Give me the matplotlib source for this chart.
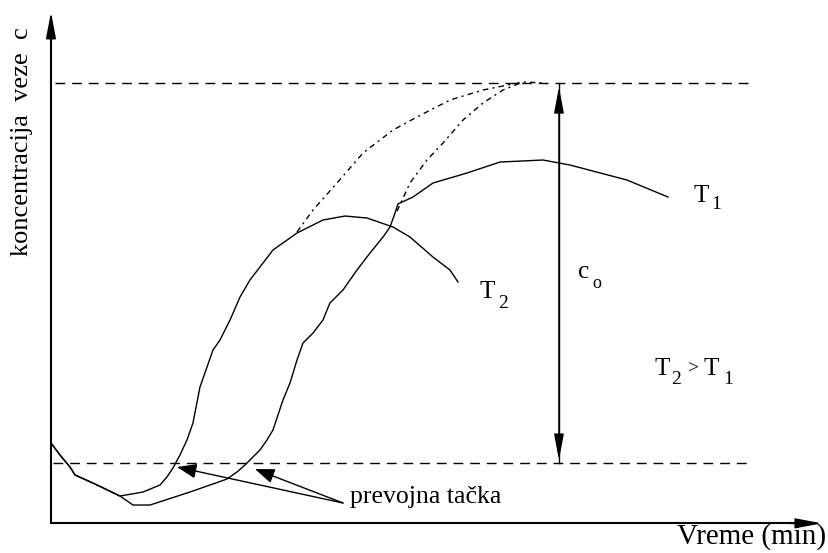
import matplotlib
matplotlib.use("Agg")
import matplotlib.pyplot as plt

# ---- data (time units, concentration units; c = 100 is saturation) ----
t1_t = [0, 1.17, 2.47, 3.12, 5.71, 8.96, 10.65, 12.86, 18.05, 22.86, 24.16, 25.19,
        27.14, 28.05, 28.83, 30.13, 31.04, 31.95, 32.73, 34.03, 35.32, 36.23, 37.92,
        39.74, 41.43, 43.12, 44.03, 44.68, 45.06, 47.01, 49.61, 54.03, 58.31, 63.90,
        67.40, 74.81, 80.13]
t1_c = [18.0, 15.26, 12.53, 10.71, 8.66, 5.92, 3.87, 3.87, 6.83, 9.79, 11.39, 12.98,
        16.40, 18.68, 20.96, 27.79, 31.66, 36.90, 40.77, 43.05, 46.01, 49.89, 52.85,
        57.40, 61.28, 64.92, 67.20, 70.39, 72.44, 74.03, 77.22, 79.50, 82.00, 82.46,
        81.32, 77.90, 74.03]

t2_t = [0, 1.17, 2.47, 3.12, 5.71, 8.96, 11.95, 14.16, 15.06, 15.84, 16.75, 17.66,
        18.44, 19.35, 21.04, 21.95, 23.25, 24.55, 25.84, 27.14, 28.83, 31.95, 35.32,
        38.18, 41.04, 44.42, 46.62, 49.61, 51.82, 52.86]
t2_c = [18.0, 15.26, 12.53, 10.71, 8.66, 5.92, 6.83, 8.43, 10.25, 12.30, 15.26, 18.68,
        22.55, 30.75, 39.18, 41.46, 46.01, 51.25, 55.13, 58.09, 61.96, 65.83, 68.79,
        69.70, 69.25, 67.20, 64.92, 60.36, 57.40, 54.67]

t2_sat_t = [31.95, 34.03, 37.14, 40.52, 44.42, 47.53, 51.82, 56.10, 61.30, 64.16]
t2_sat_c = [66.06, 71.07, 77.22, 84.05, 89.29, 92.26, 96.13, 98.41, 100.23, 100.0]

t1_sat_t = [44.94, 46.62, 48.83, 50.91, 53.51, 56.10, 58.70, 61.30]
t1_sat_c = [70.80, 77.22, 82.46, 86.33, 91.57, 95.44, 98.41, 100.23]

c_max = 100.0          # saturation level
c_min = 13.4           # lower reference level
dash_end = 90.78       # end of reference dashed lines
c0_t = 65.97           # position of c0 double arrow
infl_t2 = (16.36, 12.53)
infl_t1 = (26.49, 12.07)
label_pt = (37.92, 4.33)

plt.rcParams['font.family'] = ['Liberation Serif', 'DejaVu Serif']

fig = plt.figure(figsize=(8.29, 5.53), dpi=100)
ax = fig.add_axes([0, 0, 1, 1])
ax.set_xlim(-6.62, 101.04)
ax.set_ylim(-7.06, 118.91)
ax.axis('off')

lw = 1.0
# curves
ax.plot(t1_t, t1_c, color='black', lw=lw)
ax.plot(t2_t, t2_c, color='black', lw=lw)
ax.plot(t2_sat_t, t2_sat_c, color='black', lw=lw, ls=(0, (4, 3, 1.5, 3)))
ax.plot(t1_sat_t, t1_sat_c, color='black', lw=lw, ls=(0, (4, 3, 1.5, 3)))

# reference dashed lines
ax.plot([0.5, dash_end], [c_max, c_max], color='black', lw=lw, ls=(0, (7, 5)))
ax.plot([0.3, dash_end], [c_min, c_min], color='black', lw=lw, ls=(0, (7, 5)))

# axes with arrows
ax.plot([0, 0], [-0.3, 112], color='black', lw=1.5)
ax.plot([0, 98], [-0.3, -0.3], color='black', lw=1.5)
ax.annotate('', xy=(0, 116.2), xytext=(0, 108),
            arrowprops=dict(arrowstyle='-|>,head_length=1.6,head_width=0.3',
                            mutation_scale=10, color='black', lw=1.2,
                            shrinkA=0, shrinkB=0))
ax.annotate('', xy=(100.13, -0.3), xytext=(96, -0.3),
            arrowprops=dict(arrowstyle='-|>,head_length=1.6,head_width=0.3',
                            mutation_scale=10, color='black', lw=1.2,
                            shrinkA=0, shrinkB=0))

# c0 double arrow
ax.plot([c0_t, c0_t], [c_min, c_max], color='black', lw=lw)
ax.annotate('', xy=(c0_t, 99.1), xytext=(c0_t, 14.1),
            arrowprops=dict(arrowstyle='<|-|>,head_length=1.6,head_width=0.3',
                            mutation_scale=10, color='black', lw=lw,
                            shrinkA=0, shrinkB=0))

# inflection point arrows
for pt in (infl_t2, infl_t1):
    ax.annotate('', xy=pt, xytext=label_pt,
                arrowprops=dict(arrowstyle='-|>,head_length=1.2,head_width=0.45',
                                mutation_scale=10, color='black', lw=lw,
                                shrinkA=0, shrinkB=0))

fs = 18
ax.text(-3.77, 86.6, 'koncentracija  veze  c', rotation=90, ha='center',
        va='center', fontsize=19)
ax.text(81.3, -5.0, 'Vreme (min)', ha='left', va='baseline', fontsize=21)
ax.text(38.83, 4.33, 'prevojna tačka', ha='left', va='baseline', fontsize=18.5)

# T1 label
ax.text(83.4, 72.9, 'T', ha='left', va='baseline', fontsize=fs)
ax.text(85.7, 71.3, '1', ha='left', va='baseline', fontsize=14)
# T2 label
ax.text(55.7, 51.0, 'T', ha='left', va='baseline', fontsize=fs)
ax.text(58.1, 48.8, '2', ha='left', va='baseline', fontsize=14)
# c0 label
ax.text(68.5, 55.6, 'c', ha='left', va='baseline', fontsize=fs)
ax.text(70.3, 53.3, 'o', ha='left', va='baseline', fontsize=13)
# T2 > T1
ax.text(78.4, 33.5, 'T', ha='left', va='baseline', fontsize=fs)
ax.text(80.6, 31.5, '2', ha='left', va='baseline', fontsize=14)
ax.text(82.7, 33.8, '>', ha='left', va='baseline', fontsize=14)
ax.text(84.8, 33.5, 'T', ha='left', va='baseline', fontsize=fs)
ax.text(87.3, 31.5, '1', ha='left', va='baseline', fontsize=14)

fig.savefig('out.png', dpi=100)
